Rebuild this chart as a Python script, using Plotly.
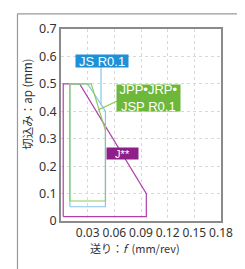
import plotly.graph_objects as go

# Series outlines (feed f in mm/rev, depth ap in mm)
j_f = [0.0025, 0.0025, 0.021, 0.096, 0.096, 0.0025]
j_ap = [0.016, 0.5, 0.5, 0.10, 0.016, 0.016]

jpp_f = [0.010, 0.010, 0.034, 0.050, 0.050, 0.010]
jpp_ap = [0.073, 0.5, 0.5, 0.33, 0.073, 0.073]

js_f = [0.010, 0.010, 0.030, 0.050, 0.050, 0.010]
js_ap = [0.052, 0.5, 0.5, 0.40, 0.052, 0.052]

# leader lines from labels
js_lead_f = [0.045, 0.045]
js_lead_ap = [0.565, 0.425]
jpp_lead_f = [0.065, 0.042]
jpp_lead_ap = [0.44, 0.405]

x_ticks = [0.03, 0.06, 0.09, 0.12, 0.15, 0.18]
x_tick_text = ["0.03", "0.06", "0.09", "0.12", "0.15", "0.18"]
y_ticks = [0, 0.1, 0.2, 0.3, 0.4, 0.5, 0.6, 0.7]
y_tick_text = ["0", "0.1", "0.2", "0.3", "0.4", "0.5", "0.6", "0.7"]

MAG = "#B23FA8"
GRN = "#8DCB5E"
BLU = "#86C6EA"

fig = go.Figure()
fig.add_trace(go.Scatter(x=j_f, y=j_ap, mode="lines", line=dict(color=MAG, width=1.2), hoverinfo="skip"))
fig.add_trace(go.Scatter(x=js_f, y=js_ap, mode="lines", line=dict(color=BLU, width=1.2), hoverinfo="skip"))
fig.add_trace(go.Scatter(x=jpp_f, y=jpp_ap, mode="lines", line=dict(color=GRN, width=1.2), hoverinfo="skip"))
fig.add_trace(go.Scatter(x=js_lead_f, y=js_lead_ap, mode="lines", line=dict(color=BLU, width=1.2), hoverinfo="skip"))
fig.add_trace(go.Scatter(x=jpp_lead_f, y=jpp_lead_ap, mode="lines", line=dict(color=GRN, width=1.2), hoverinfo="skip"))

font_lab = "Liberation Sans, Arial, sans-serif"
fig.add_annotation(x=0.0458, y=0.585, text="JS R0.1", showarrow=False,
                   bgcolor="#1E90D6", font=dict(color="white", size=13, family=font_lab), borderpad=0,
                   width=52, height=12, xanchor="center", yanchor="middle")
fig.add_annotation(x=0.098, y=0.447, text="JPP•JRP•<br>JSP R0.1", showarrow=False,
                   bgcolor="#6DB83A", font=dict(color="white", size=13, family=font_lab), borderpad=0,
                   width=63, height=26, xanchor="center", yanchor="middle")
fig.add_annotation(x=0.0695, y=0.245, text="J**", showarrow=False,
                   bgcolor="#8E1F88", font=dict(color="white", size=11, family=font_lab), borderpad=0,
                   width=31, height=11, xanchor="center", yanchor="middle")

# axis titles as annotations (positioned like the reference)
fig.add_annotation(xref="paper", yref="paper", x=-0.213, y=0.61, text="切込み：ap (mm)",
                   textangle=-90, showarrow=False, xanchor="center", yanchor="middle",
                   font=dict(size=11.5, color="#333333", family="Noto Sans CJK JP"))
fig.add_annotation(xref="paper", yref="paper", x=0.46, y=-0.143, text="送り：<i>f</i>  (mm/rev)",
                   showarrow=False, xanchor="center", yanchor="middle",
                   font=dict(size=11, color="#333333", family="Noto Sans CJK JP"))

# outer frame
fig.add_shape(type="line", xref="paper", yref="paper", x0=-0.272, x1=1.2, y0=1.079, y1=1.079,
              line=dict(color="#999999", width=1.2))
fig.add_shape(type="line", xref="paper", yref="paper", x0=-0.272, x1=-0.272, y0=1.079, y1=-0.6,
              line=dict(color="#999999", width=1.2))

fig.update_xaxes(range=[0, 0.18], tickvals=x_ticks, ticktext=x_tick_text, tickangle=0,
                 showgrid=True, gridcolor="#D8D8D8", griddash="dot", gridwidth=1,
                 showline=True, linecolor="#8A8A8A", linewidth=1.5, mirror=True,
                 ticks="", zeroline=False,
                 tickfont=dict(size=12, color="#333333", family="Noto Sans, sans-serif"))
fig.update_yaxes(range=[0, 0.7], tickvals=y_ticks, ticktext=y_tick_text,
                 showgrid=True, gridcolor="#D8D8D8", griddash="dot", gridwidth=1,
                 showline=True, linecolor="#8A8A8A", linewidth=1.5, mirror=True,
                 ticks="", zeroline=False,
                 tickfont=dict(size=12.5, color="#333333", family="Noto Sans, sans-serif"))

# page body has an 8px margin, so the figure is 8px smaller and shifted
fig.update_layout(width=237, height=261, showlegend=False,
                  margin=dict(l=53, r=15, t=16, b=48),
                  paper_bgcolor="white", plot_bgcolor="white")

fig.write_html("out.html")
